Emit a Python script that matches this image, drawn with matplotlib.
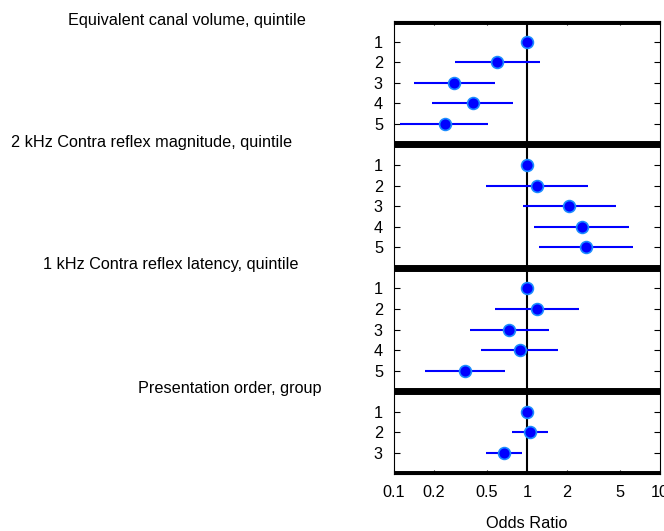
import numpy as np
import matplotlib.pyplot as plt
from matplotlib.ticker import NullLocator

plt.rcParams['font.family'] = ['Liberation Sans', 'DejaVu Sans']

# group titles and the levels inside each group
groups = ["Equivalent canal volume, quintile",
          "2 kHz Contra reflex magnitude, quintile",
          "1 kHz Contra reflex latency, quintile",
          "Presentation order, group"]
levels = [["1", "2", "3", "4", "5"],
          ["1", "2", "3", "4", "5"],
          ["1", "2", "3", "4", "5"],
          ["1", "2", "3"]]

# odds ratios with lower / upper 95% limits
or_canal = [1.0, 0.60, 0.284, 0.395, 0.243]
lo_canal = [1.0, 0.29, 0.141, 0.192, 0.111]
hi_canal = [1.0, 1.25, 0.57, 0.79, 0.51]

or_mag = [1.0, 1.19, 2.07, 2.58, 2.78]
lo_mag = [1.0, 0.49, 0.94, 1.13, 1.23]
hi_mag = [1.0, 2.86, 4.64, 5.88, 6.23]

or_lat = [1.0, 1.18, 0.736, 0.89, 0.342]
lo_lat = [1.0, 0.575, 0.373, 0.453, 0.171]
hi_lat = [1.0, 2.45, 1.46, 1.72, 0.68]

or_order = [1.0, 1.05, 0.668]
lo_order = [1.0, 0.775, 0.49]
hi_order = [1.0, 1.43, 0.92]

ors = [or_canal, or_mag, or_lat, or_order]
los = [lo_canal, lo_mag, lo_lat, lo_order]
his = [hi_canal, hi_mag, hi_lat, hi_order]

xticks = [0.1, 0.2, 0.5, 1, 2, 5, 10]
xticklabels = ["0.1", "0.2", "0.5", "1", "2", "5", "10"]

fs = 11.7

fig = plt.figure(figsize=(6.64, 5.31), dpi=100)
ax = fig.add_axes([394 / 664, 1 - 473.5 / 531, 266 / 664, 452.5 / 531])

# lay out rows: one blank unit above/below each group
ypos, ylab, seps = [], [], [0]
y = 0
for lev in levels:
    rows = [y + 1 + i for i in range(len(lev))]
    ypos.append(rows)
    ylab += lev
    y = rows[-1] + 1
    seps.append(y)

for s in seps:
    ax.axhline(s, color='black', lw=5, zorder=4)

ax.axvline(1, color='black', lw=1.5, zorder=1)

for rows, o, lo, hi in zip(ypos, ors, los, his):
    ax.hlines(rows, lo, hi, color='blue', lw=1.5, zorder=2)
    ax.plot(o, rows, 'o', ms=8.5, mfc='blue', mec='#1a8cff', mew=1.2,
            ls='none', zorder=3)

ax.set_xscale('log')
ax.set_xlim(0.1, 10)
ax.set_ylim(seps[-1], 0)
ax.set_xticks(xticks)
ax.set_xticklabels(xticklabels, fontsize=fs)
ax.xaxis.set_minor_locator(NullLocator())
ax.set_yticks(sum(ypos, []))
ax.set_yticklabels(ylab, fontsize=fs)
ax.tick_params(axis='y', direction='in', length=4, right=True, pad=8)
ax.tick_params(axis='x', direction='in', length=3, top=True, pad=8)
ax.set_xlabel("Odds Ratio", fontsize=fs, labelpad=12)

# group titles to the left of the panel
title_x = [187, 152, 171, 230]
title_y = [20, 142, 265, 388]
for t, tx, ty in zip(groups, title_x, title_y):
    fig.text(tx / 664, 1 - ty / 531, t, ha='center', va='center', fontsize=fs)

fig.savefig("out.png", dpi=100)
